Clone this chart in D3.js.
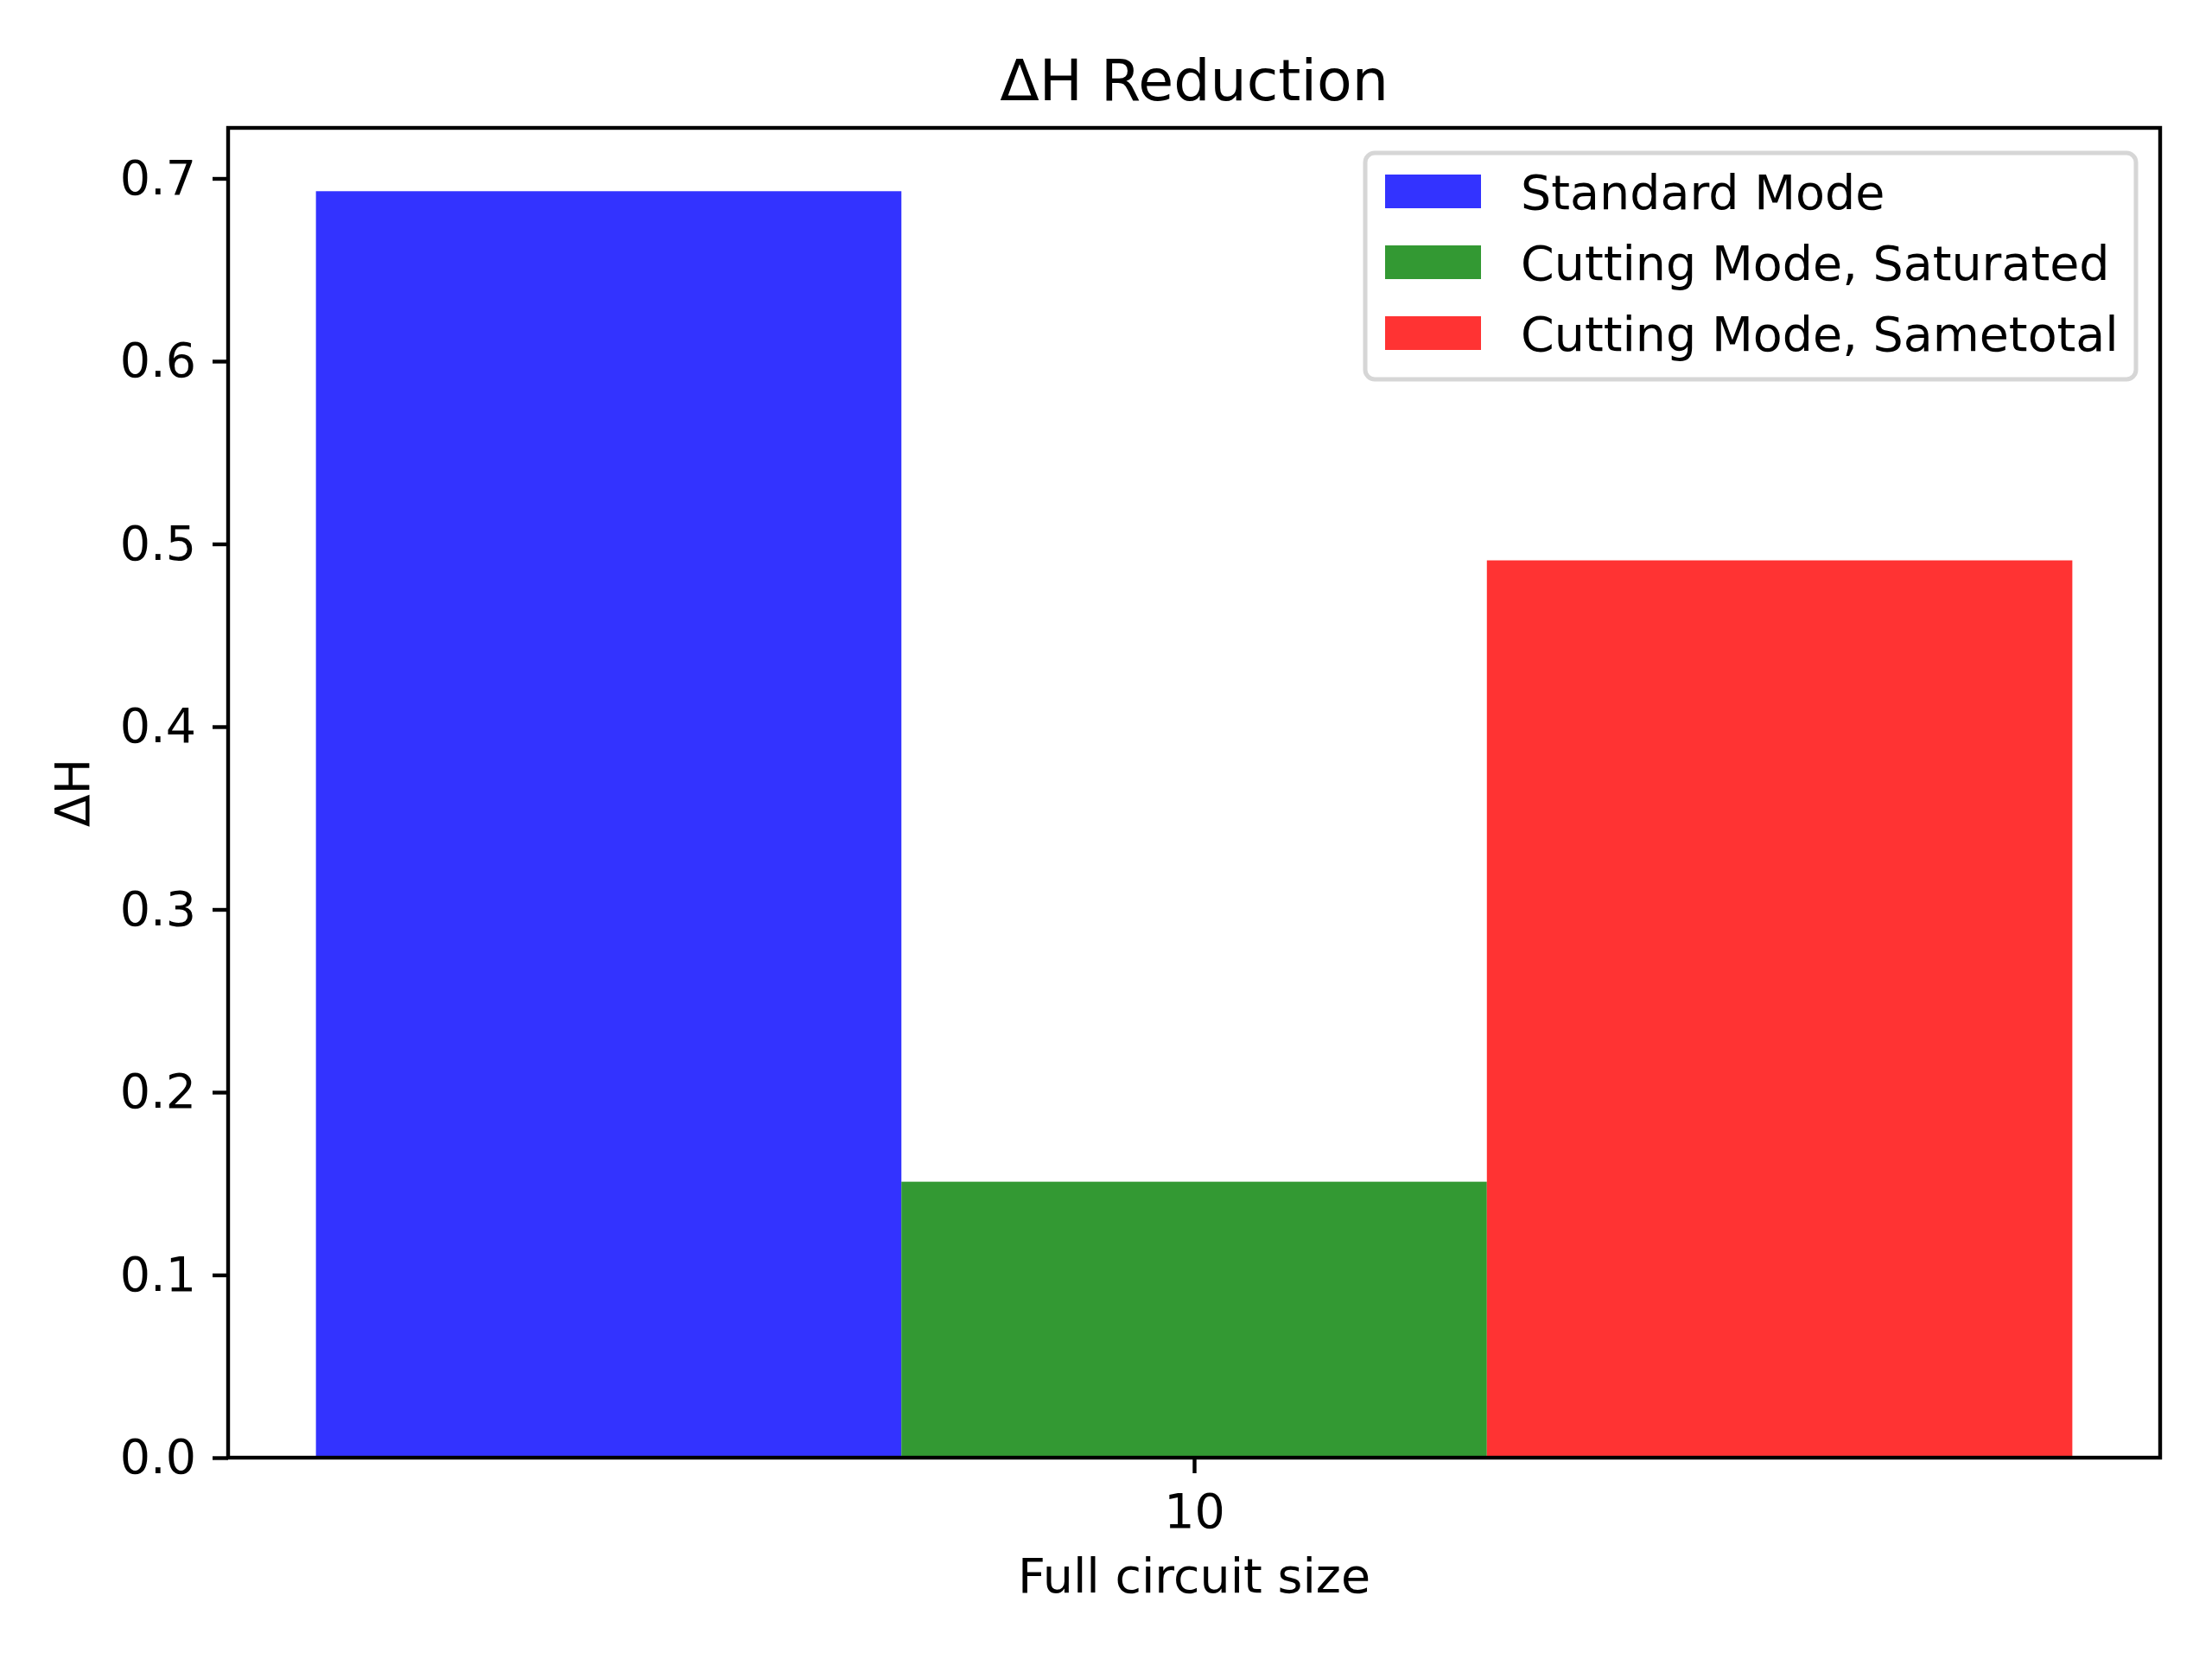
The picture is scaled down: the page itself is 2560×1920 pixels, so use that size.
<!DOCTYPE html>
<html>
<head>
<meta charset="utf-8">
<script src="https://cdn.jsdelivr.net/npm/d3@7"></script>
<style>
  html, body { margin: 0; padding: 0; background: #ffffff; }
  svg { display: block; font-family: "DejaVu Sans", sans-serif; }
</style>
</head>
<body>
<svg id="chart" width="2560" height="1920"></svg>
<script>
// ---- data ----
const categories = ["10"];
const seriesNames = ["Standard Mode", "Cutting Mode, Saturated", "Cutting Mode, Sametotal"];
const seriesColors = ["#3333ff", "#339933", "#ff3333"];
const standardValues = [0.693];
const saturatedValues = [0.151];
const sametotalValues = [0.491];
const yTicks = [0.0, 0.1, 0.2, 0.3, 0.4, 0.5, 0.6, 0.7];
const titleText = "ΔH Reduction";
const xLabelText = "Full circuit size";
const yLabelText = "ΔH";

const seriesValues = [standardValues, saturatedValues, sametotalValues];

// ---- layout ----
const W = 2560, H = 1920;
const plot = { left: 264, right: 2500, top: 148, bottom: 1687 };
const barW = 0.25;
const offsets = [-barW, 0, barW];

const svg = d3.select("#chart");
svg.append("rect").attr("width", W).attr("height", H).attr("fill", "#ffffff");

// x: linear in category units, with matplotlib-like 5% margins
const xMin = -0.5 * barW + offsets[0];
const xMax = (categories.length - 1) + offsets[2] + 0.5 * barW;
const xPad = (xMax - xMin) * 0.05;
const x = d3.scaleLinear().domain([xMin - xPad, xMax + xPad]).range([plot.left, plot.right]);

const allMax = d3.max(seriesValues.flat());
const y = d3.scaleLinear().domain([0, allMax * 1.05]).range([plot.bottom, plot.top]);

// ---- bars ----
const barData = [];
seriesValues.forEach((vals, si) => {
  vals.forEach((v, ci) => barData.push({ si, ci, v }));
});
svg.append("g").selectAll("rect").data(barData).join("rect")
  .attr("x", d => x(d.ci + offsets[d.si] - barW / 2))
  .attr("width", d => x(d.ci + offsets[d.si] + barW / 2) - x(d.ci + offsets[d.si] - barW / 2))
  .attr("y", d => y(d.v))
  .attr("height", d => y(0) - y(d.v))
  .attr("fill", d => seriesColors[d.si]);

// ---- axes ----
const yAxis = d3.axisLeft(y).tickValues(yTicks).tickFormat(d3.format(".1f")).tickSize(18).tickPadding(19);
const gy = svg.append("g").attr("transform", `translate(${plot.left},0)`).call(yAxis);
gy.select(".domain").remove();
gy.selectAll(".tick line").attr("stroke", "#000").attr("stroke-width", 4.4);
gy.selectAll(".tick text").attr("font-size", 55.5).attr("fill", "#000")
  .attr("font-family", "DejaVu Sans, sans-serif");

const xAxis = d3.axisBottom(x).tickValues(categories.map((c, i) => i))
  .tickFormat(i => categories[i]).tickSize(18).tickPadding(24);
const gx = svg.append("g").attr("transform", `translate(0,${plot.bottom})`).call(xAxis);
gx.select(".domain").remove();
gx.selectAll(".tick line").attr("stroke", "#000").attr("stroke-width", 4.4);
gx.selectAll(".tick text").attr("font-size", 55.5).attr("fill", "#000")
  .attr("font-family", "DejaVu Sans, sans-serif");

// frame
svg.append("rect")
  .attr("x", plot.left).attr("y", plot.top)
  .attr("width", plot.right - plot.left).attr("height", plot.bottom - plot.top)
  .attr("fill", "none").attr("stroke", "#000").attr("stroke-width", 4.4);

// ---- labels ----
const cx = (plot.left + plot.right) / 2;
svg.append("text").attr("x", cx).attr("y", 116).attr("text-anchor", "middle")
  .attr("font-size", 66.6).attr("fill", "#000").text(titleText);
svg.append("text").attr("x", cx).attr("y", 1843).attr("text-anchor", "middle")
  .attr("font-size", 55.5).attr("fill", "#000").text(xLabelText);
svg.append("text")
  .attr("transform", `translate(103,${(plot.top + plot.bottom) / 2}) rotate(-90)`)
  .attr("text-anchor", "middle")
  .attr("font-size", 55.5).attr("fill", "#000").text(yLabelText);

// ---- legend ----
const leg = svg.append("g");
const legBox = { x: 1580, y: 177, w: 892, h: 262 };
leg.append("rect")
  .attr("x", legBox.x).attr("y", legBox.y).attr("width", legBox.w).attr("height", legBox.h)
  .attr("rx", 11).attr("ry", 11)
  .attr("fill", "rgba(255,255,255,0.8)").attr("stroke", "#d6d6d6").attr("stroke-width", 5);
seriesNames.forEach((name, i) => {
  const rowY = 202 + i * 82;
  leg.append("rect").attr("x", 1603).attr("y", rowY).attr("width", 111).attr("height", 39)
    .attr("fill", seriesColors[i]);
  leg.append("text").attr("x", 1760).attr("y", rowY + 40)
    .attr("font-size", 55.5).attr("fill", "#000").text(name);
});
</script>
</body>
</html>
